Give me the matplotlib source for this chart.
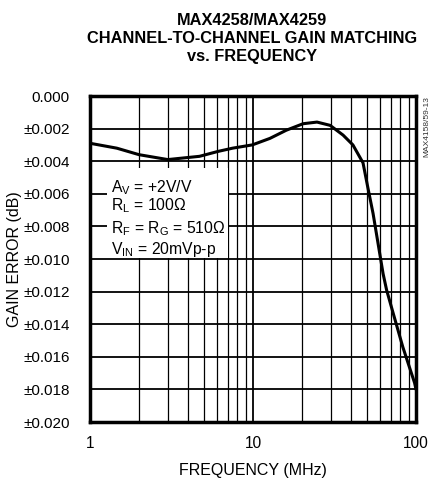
import matplotlib
matplotlib.use("Agg")
import matplotlib.pyplot as plt
from matplotlib.patches import Rectangle
from matplotlib.ticker import FixedLocator, NullFormatter

plt.rcParams['font.family'] = ['Liberation Sans', 'DejaVu Sans']
plt.rcParams['mathtext.fontset'] = 'custom'
plt.rcParams['mathtext.rm'] = 'Liberation Sans'

freq_mhz = [1.0, 1.46, 2.0, 3.0, 4.7, 6.1, 7.5, 9.9, 12.7, 16.0, 20.3, 24.7, 29.7,
            35.7, 41.0, 47.3, 50.6, 54.5, 58.4, 62.8, 66.0, 72.3, 83.0, 98.0, 100.0]
gain_err = [0.0029, 0.0032, 0.0036, 0.0039, 0.0037, 0.0034, 0.0032, 0.0030, 0.0026,
            0.0021, 0.0017, 0.0016, 0.0018, 0.0024, 0.0030, 0.0041, 0.0056, 0.0072,
            0.0090, 0.0109, 0.0119, 0.0133, 0.0154, 0.0176, 0.0180]
y_ticks = [0.000, 0.002, 0.004, 0.006, 0.008, 0.010, 0.012, 0.014, 0.016, 0.018, 0.020]
y_labels = ['0.000'] + ['±%.3f' % v for v in y_ticks[1:]]
x_ticks = [1, 10, 100]
x_labels = ['1', '10', '100']
notes = [r'A$_\mathregular{V}$ = +2V/V',
         r'R$_\mathregular{L}$ = 100Ω',
         r'R$_\mathregular{F}$ = R$_\mathregular{G}$ = 510Ω',
         r'V$_\mathregular{IN}$ = 20mVp-p']

fig = plt.figure(figsize=(4.32, 4.80), dpi=100)
ax = fig.add_axes([0.2083, 0.1208, 0.7547, 0.6792])
ax.set_xscale('log')
ax.set_xlim(1, 100)
ax.set_ylim(0.020, 0.0)

ax.plot(freq_mhz, gain_err, color='black', lw=2.2, zorder=5, solid_capstyle='round')

minor = [m * d for d in (1, 10) for m in range(2, 10)]
ax.xaxis.set_major_locator(FixedLocator(x_ticks))
ax.xaxis.set_minor_locator(FixedLocator(minor))
ax.xaxis.set_minor_formatter(NullFormatter())
ax.set_xticklabels(x_labels)
ax.set_yticks(y_ticks)
ax.set_yticklabels(y_labels)
ax.grid(True, which='major', color='black', lw=1.3)
ax.grid(True, which='minor', axis='x', color='black', lw=0.9)
ax.tick_params(which='both', length=0, labelsize=11.2)
ax.tick_params(axis='y', labelsize=11, pad=14.5)
ax.tick_params(axis='x', pad=10)
for s in ax.spines.values():
    s.set_linewidth(2.5)
    s.set_zorder(6)

ax.add_patch(Rectangle((0.052, 0.503), 0.371, 0.276, transform=ax.transAxes,
                       facecolor='white', edgecolor='none', zorder=3))
ys = [0.706, 0.648, 0.580, 0.515]
for t, y in zip(notes, ys):
    ax.text(0.064, y, t, transform=ax.transAxes, fontsize=11.3, va='baseline',
            ha='left', zorder=4)

ax.set_xlabel('FREQUENCY (MHz)', fontsize=11.5, labelpad=9)
ax.set_ylabel('GAIN ERROR (dB)', fontsize=11.5, labelpad=1)

fig.text(0.583, 0.92, 'MAX4258/MAX4259\nCHANNEL-TO-CHANNEL GAIN MATCHING\nvs. FREQUENCY',
         ha='center', va='center', fontsize=11.8, fontweight='bold', linespacing=1.25,
         family=['Liberation Sans Narrow', 'Liberation Sans'])
fig.text(0.988, 0.8, 'MAX4158/59-13', rotation=90, ha='center', va='top', fontsize=6,
         color='#333333', family=['Liberation Sans Narrow', 'Liberation Sans'])

fig.savefig('out.png', dpi=100)
